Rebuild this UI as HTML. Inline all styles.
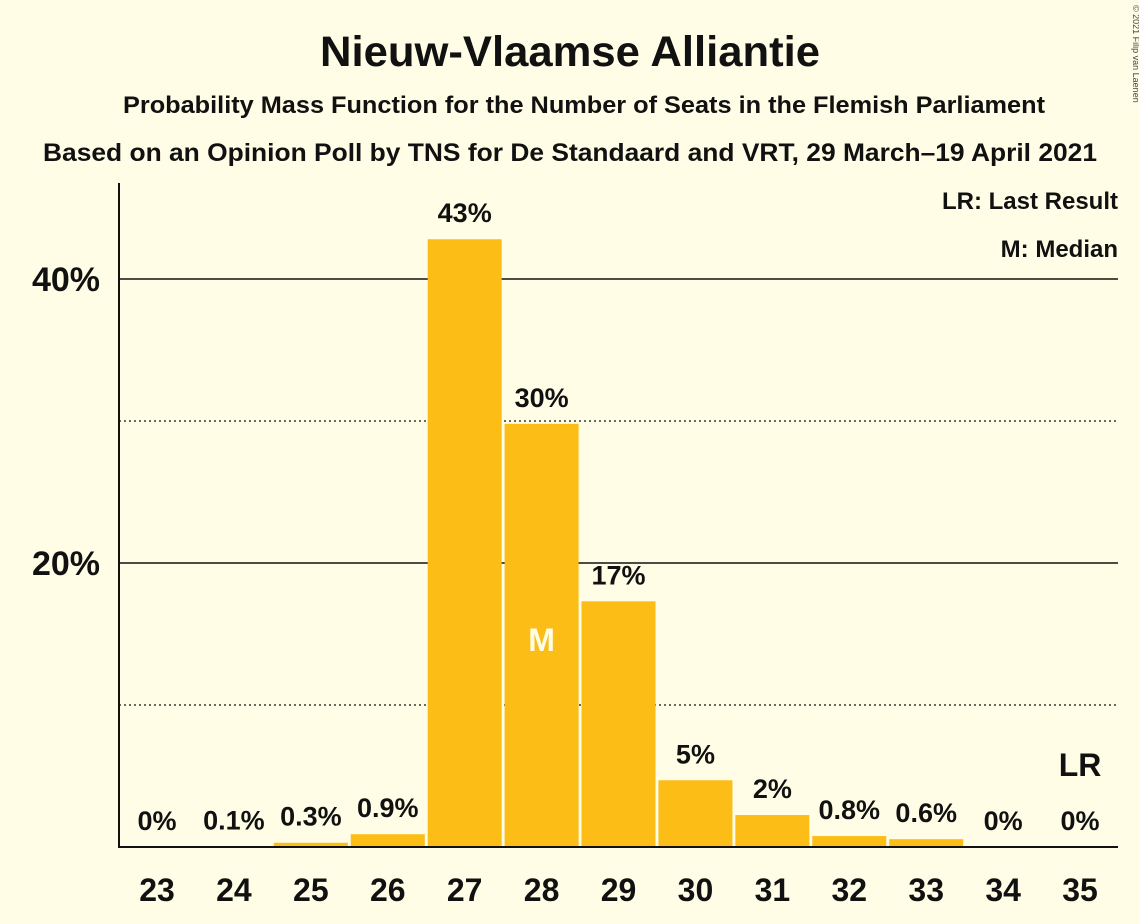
<!DOCTYPE html>
<html><head><meta charset="utf-8"><style>
body{margin:0;background:#fffde6;}
svg{display:block;font-family:"Liberation Sans",sans-serif;font-weight:bold;}
</style></head><body>
<svg width="1139" height="924">
<rect width="1139" height="924" fill="#fffde6"/>
<text x="570" y="66" font-size="43" text-anchor="middle" textLength="500" lengthAdjust="spacingAndGlyphs" fill="#111">Nieuw-Vlaamse Alliantie</text>
<text x="584" y="113" font-size="24" text-anchor="middle" textLength="922" lengthAdjust="spacingAndGlyphs" fill="#111">Probability Mass Function for the Number of Seats in the Flemish Parliament</text>
<text x="570" y="161" font-size="25" text-anchor="middle" textLength="1054" lengthAdjust="spacingAndGlyphs" fill="#111">Based on an Opinion Poll by TNS for De Standaard and VRT, 29 March–19 April 2021</text>
<text x="1133" y="5" font-size="9" font-weight="normal" fill="#444" transform="rotate(90 1133 5)">© 2021 Filip van Laenen</text>
<g id="grid"></g>
<g id="bars"></g>
<line x1="119" y1="183" x2="119" y2="848" stroke="#111" stroke-width="2"/>
<line x1="119" y1="847" x2="1118" y2="847" stroke="#111" stroke-width="2"/>
<text x="1118" y="209" font-size="24" text-anchor="end" fill="#111">LR: Last Result</text>
<text x="1118" y="257" font-size="24" text-anchor="end" fill="#111">M: Median</text>
</svg>
<script>
const categories=[23,24,25,26,27,28,29,30,31,32,33,34,35];
const values=[0,0.05,0.3,0.9,42.8,29.8,17.3,4.7,2.25,0.77,0.55,0,0];
const labels=["0%","0.1%","0.3%","0.9%","43%","30%","17%","5%","2%","0.8%","0.6%","0%","0%"];
const yTicks=[20,40];
const yDotted=[10,30];
const medianSeat=28;
const lastResultSeat=35;
const NS="http://www.w3.org/2000/svg";
function y(v){return 847-v*14.2;}
function x(i){return 157+i*76.92;}
function mk(tag,attrs,parent,text){const e=document.createElementNS(NS,tag);for(const k in attrs)e.setAttribute(k,attrs[k]);if(text!==undefined)e.textContent=text;parent.appendChild(e);return e;}
const grid=document.getElementById('grid'),bars=document.getElementById('bars');
yTicks.forEach(t=>{
 const l=mk('line',{x1:119,x2:1118,y1:y(t),y2:y(t),stroke:'#111','stroke-width':1.5},grid);
 
 
 const tx=mk('text',{x:100,y:y(t)+12,'font-size':34,'text-anchor':'end',fill:'#111'},grid,t+'%');
 
 
});
yDotted.forEach(t=>{
 const l=mk('line',{x1:119,x2:1118,y1:y(t),y2:y(t),stroke:'#111','stroke-width':1.2,'stroke-dasharray':'2,3'},grid);
 
 
});
categories.forEach((c,i)=>{
 const cx=x(i),v=values[i];
 if(v>0){
  const r=mk('rect',{x:cx-37,y:y(v),width:74,height:847-y(v),fill:'#fbbd16'},bars);
  
  
 }
 const lt=mk('text',{x:cx,y:y(v)-17,'font-size':27,'text-anchor':'middle',fill:'#111'},bars,labels[i]);
 
 
 const xt=mk('text',{x:cx,y:901,'font-size':32,'text-anchor':'middle',fill:'#111'},bars,String(c));
 
 
 if(c===medianSeat){
  const m=mk('text',{x:cx,y:651,'font-size':32,'text-anchor':'middle',fill:'#fffde6'},bars,'M');
  
  
 }
 if(c===lastResultSeat){
  const m=mk('text',{x:cx,y:776,'font-size':32,'text-anchor':'middle',fill:'#111'},bars,'LR');
  
  
 }
});
</script>
</body></html>
